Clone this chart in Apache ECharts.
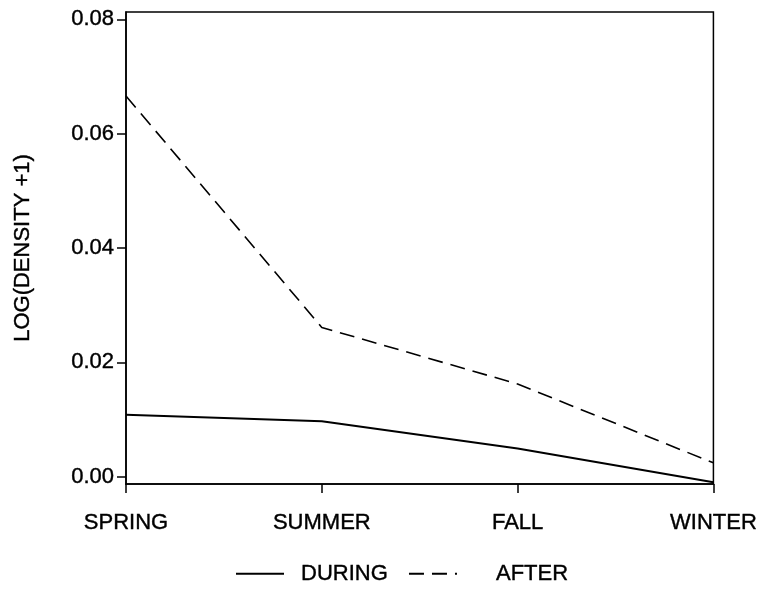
<!DOCTYPE html>
<html>
<head>
<meta charset="utf-8">
<script src="https://cdn.jsdelivr.net/npm/echarts@6/dist/echarts.min.js"></script>
<style>
html,body{margin:0;padding:0;background:#fff;}
#chart{width:760px;height:592px;}
</style>
</head>
<body>
<div id="chart"></div>
<script>
var categories = ['SPRING', 'SUMMER', 'FALL', 'WINTER'];
var duringValues = [0.0108, 0.0097, 0.0049, -0.0010];
var afterValues = [0.0666, 0.0261, 0.0162, 0.0024];
var yTicks = [0, 0.02, 0.04, 0.06, 0.08];
var yTitle = 'LOG(DENSITY +1)';

var FONT = '"Liberation Sans", Arial, Helvetica, sans-serif';
var TXT = {fontFamily: FONT, fontSize: 22, color: '#000', textBorderColor: '#000', textBorderWidth: 0.4};
var chart = echarts.init(document.getElementById('chart'), null, {renderer: 'canvas'});
chart.setOption({
  animation: false,
  backgroundColor: '#fff',
  grid: {
    left: 126, right: 46, top: 12, bottom: 108,
    show: true, borderColor: '#000', borderWidth: 1.5, backgroundColor: 'transparent'
  },
  legend: {
    bottom: 2,
    left: 230,
    itemWidth: 48,
    itemHeight: 12,
    itemGap: 20,
    itemStyle: {opacity: 0},
    textStyle: TXT,
    data: [
      {name: 'DURING', textStyle: Object.assign({}, TXT, {padding: [0, 0, 0, 12]})},
      {name: 'AFTER', textStyle: Object.assign({}, TXT, {padding: [0, 0, 0, 34]})}
    ]
  },
  xAxis: {
    type: 'category',
    data: categories,
    boundaryGap: false,
    axisLine: {show: true, onZero: false, lineStyle: {color: '#000', width: 1.5}},
    axisTick: {show: true, inside: false, length: 9, lineStyle: {color: '#000', width: 1.5}},
    axisLabel: Object.assign({}, TXT, {margin: 28}),
    splitLine: {show: false}
  },
  yAxis: {
    type: 'value',
    min: -0.0013,
    max: 0.0813,
    name: yTitle,
    nameLocation: 'middle',
    nameRotate: 90,
    nameGap: 92,
    nameTextStyle: TXT,
    axisLine: {show: true, lineStyle: {color: '#000', width: 1.5}},
    axisTick: {show: true, inside: false, length: 9, customValues: yTicks, lineStyle: {color: '#000', width: 1.5}},
    axisLabel: Object.assign({}, TXT, {margin: 12, customValues: yTicks,
      formatter: function (v) { return v.toFixed(2); }}),
    splitLine: {show: false}
  },
  series: [
    {
      name: 'DURING', type: 'line', data: duringValues,
      symbol: 'none', smooth: false,
      lineStyle: {color: '#000', width: 2, type: 'solid'},
      itemStyle: {color: '#000'}
    },
    {
      name: 'AFTER', type: 'line', data: afterValues,
      symbol: 'none', smooth: false,
      lineStyle: {color: '#000', width: 1.6, type: [15, 8]},
      itemStyle: {color: '#000'}
    }
  ]
});
</script>
</body>
</html>
